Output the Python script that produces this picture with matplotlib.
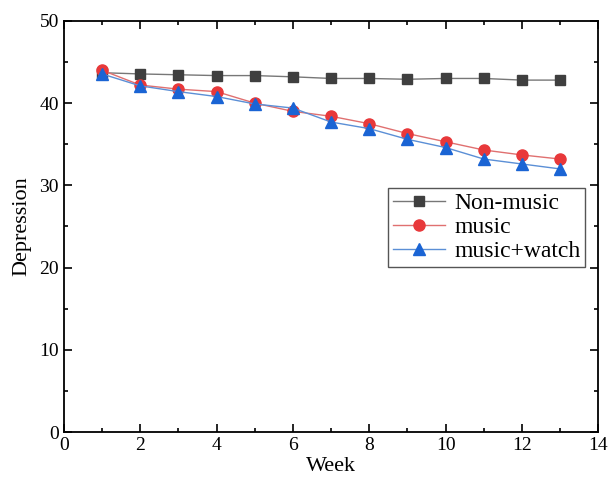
import matplotlib
matplotlib.use("Agg")
import matplotlib.pyplot as plt
from matplotlib.ticker import MultipleLocator

plt.rcParams['font.family'] = ['Liberation Serif', 'DejaVu Serif']

weeks = list(range(1, 14))
non_music = [43.7, 43.55, 43.45, 43.35, 43.35, 43.2, 43.0, 43.0, 42.9, 43.0, 43.0, 42.8, 42.8]
music = [44.0, 42.2, 41.7, 41.4, 40.0, 39.0, 38.4, 37.5, 36.3, 35.3, 34.3, 33.7, 33.2]
music_watch = [43.55, 42.1, 41.4, 40.8, 39.9, 39.4, 37.7, 36.9, 35.6, 34.6, 33.2, 32.6, 32.0]

fig = plt.figure(figsize=(6.08, 4.86), dpi=100)
ax = fig.add_axes([0.105, 0.111, 0.879, 0.846])

ax.plot(weeks, non_music, color='#777777', lw=1, marker='s', ms=7,
        mfc='#3f3f3f', mec='#3f3f3f', label='Non-music')
ax.plot(weeks, music, color='#e07070', lw=1, marker='o', ms=8,
        mfc='#e8383a', mec='#e8383a', label='music')
ax.plot(weeks, music_watch, color='#5b8fd6', lw=1, marker='^', ms=8,
        mfc='#1a64d4', mec='#1a64d4', label='music+watch')

ax.set_xlim(0, 14)
ax.set_ylim(0, 50)
ax.xaxis.set_major_locator(MultipleLocator(2))
ax.xaxis.set_minor_locator(MultipleLocator(1))
ax.yaxis.set_major_locator(MultipleLocator(10))
ax.yaxis.set_minor_locator(MultipleLocator(5))
ax.tick_params(which='both', direction='in', top=True, right=True, labelsize=14, width=1.2)
ax.tick_params(which='major', length=6)
ax.tick_params(which='minor', length=3)
for s in ax.spines.values():
    s.set_linewidth(1.3)

ax.set_xlabel('Week', fontsize=16, labelpad=2)
ax.set_ylabel('Depression', fontsize=16, labelpad=6)

leg = ax.legend(loc='upper right', bbox_to_anchor=(0.976, 0.594), borderaxespad=0,
                fontsize=17, fancybox=False, edgecolor='#555555', framealpha=1,
                handlelength=2.2, borderpad=0.2, labelspacing=0.1,
                handletextpad=0.4)
leg.get_frame().set_linewidth(1)

fig.savefig('out.png', dpi=100)
